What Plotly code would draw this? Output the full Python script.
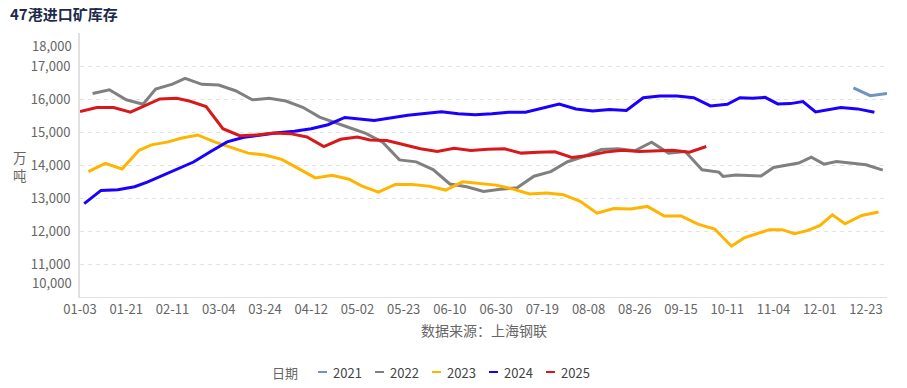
import plotly.graph_objects as go
from datetime import date, timedelta

# ---------------- data ----------------
def fridays(start, end, skip=()):
    d = date.fromisoformat(start)
    e = date.fromisoformat(end)
    out = []
    while d <= e:
        s = d.strftime("%m-%d")
        if s not in skip:
            out.append(s)
        d += timedelta(days=7)
    return out

dates_2021 = fridays("2021-12-17", "2021-12-31")
dates_2022 = fridays("2022-01-07", "2022-12-30")
dates_2023 = fridays("2023-01-06", "2023-12-29", skip=("10-06",))
dates_2024 = fridays("2024-01-05", "2024-12-27", skip=("02-16", "05-03", "10-04"))
dates_2025 = fridays("2025-01-03", "2025-09-26", skip=("01-31",))

values_2021 = [16340, 16100, 16170]
values_2022 = [16165, 16280, 15975, 15840, 16300, 16450, 16625, 16445, 16425, 16250,
               15975, 16020, 15940, 15750, 15450, 15260, 15090, 14960, 14690, 14155,
               14095, 13860, 13425, 13340, 13200, 13265, 13310, 13660, 13800, 14100,
               14265, 14470, 14490, 14430, 14690, 14360, 14410, 13855, 13785, 13655,
               13700, 13680, 13665, 13925, 13990, 14060, 14240, 14025, 14105, 14070,
               14005, 13845]
values_2023 = [13800, 14050, 13880, 14440, 14610, 14700, 14810, 14910, 14700, 14530,
               14360, 14300, 14170, 13890, 13610, 13690, 13570, 13370, 13180, 13410,
               13410, 13360, 13240, 13490, 13450, 13390, 13270, 13120, 13150, 13100,
               12900, 12540, 12680, 12670, 12745, 12455, 12455, 12210, 12060, 11540,
               11790, 11910, 12040, 12040, 11920, 12010, 12160, 12490, 12220, 12470,
               12575]
values_2024 = [12830, 13230, 13250, 13340, 13480, 13700, 14090, 14400, 14700, 14840,
               14910, 14980, 15020, 15100, 15220, 15440, 15350, 15440, 15510, 15560,
               15610, 15550, 15520, 15550, 15600, 15600, 15720, 15845, 15695, 15640,
               15680, 15655, 16040, 16090, 16090, 16040, 15790, 15840, 16040, 16020,
               16050, 15850, 15860, 15920, 15610, 15670, 15740, 15700, 15600]
values_2025 = [15620, 15740, 15740, 15600, 16000, 16020, 15940, 15770, 15100, 14890,
               14910, 14970, 14950, 14850, 14560, 14780, 14850, 14760, 14740, 14610,
               14490, 14410, 14510, 14440, 14480, 14490, 14360, 14390, 14400, 14230,
               14290, 14390, 14450, 14410, 14430, 14450, 14390, 14560]

series_names = ["2021", "2022", "2023", "2024", "2025"]
series_dates = [dates_2021, dates_2022, dates_2023, dates_2024, dates_2025]
series_values = [values_2021, values_2022, values_2023, values_2024, values_2025]
series_colors = ["#7094BE", "#808080", "#FFB400", "#1A00FF", "#D7191C"]

x_tick_labels = ["01-03", "01-21", "02-11", "03-04", "03-24", "04-12", "05-02", "05-23",
                 "06-10", "06-30", "07-19", "08-08", "08-26", "09-15", "10-11", "11-04",
                 "12-01", "12-23"]
y_tick_vals = [11000, 12000, 13000, 14000, 15000, 16000, 17000]
y_tick_text = ["11,000", "12,000", "13,000", "14,000", "15,000", "16,000", "17,000"]
y_min, y_max = 10000, 18000
y_min_label, y_max_label = "10,000", "18,000"

categories = sorted(set(d for ds in series_dates for d in ds))

# ---------------- layout geometry ----------------
OFF = 8                      # default page body margin
W, H = 907 - OFF, 388 - OFF
ML, MR, MT, MB = 72, 20, 25, 91
PW, PH = W - ML - MR, H - MT - MB
FONT = "Noto Sans CJK SC, Noto Sans, sans-serif"


def px_x(px):
    return (px - OFF - ML) / PW


def px_y(py):
    return (H - MB - (py - OFF)) / PH


fig = go.Figure()
for name, ds, vs, c in zip(series_names, series_dates, series_values, series_colors):
    assert len(ds) == len(vs), name
    fig.add_trace(go.Scatter(x=ds, y=vs, name=name, mode="lines",
                             line=dict(color=c, width=3), showlegend=False,
                             hoverinfo="x+y+name"))

annotations = []
# y title (stacked characters)
annotations.append(dict(text="万<br>吨", xref="paper", yref="paper", x=px_x(20), y=px_y(165.5),
                        xanchor="center", yanchor="middle", showarrow=False,
                        font=dict(size=13.5, color="#666666", family=FONT)))
# min / max labels
annotations.append(dict(text=y_max_label, xref="paper", yref="y", x=0, y=y_max, xanchor="right",
                        yanchor="middle", yshift=-12, xshift=-6, showarrow=False,
                        font=dict(size=13, color="#666666", family=FONT)))
annotations.append(dict(text=y_min_label, xref="paper", yref="y", x=0, y=y_min, xanchor="right",
                        yanchor="middle", yshift=15, xshift=-6, showarrow=False,
                        font=dict(size=13, color="#666666", family=FONT)))
# x title
annotations.append(dict(text="数据来源：上海钢联", xref="paper", yref="paper", x=0.5, y=px_y(330),
                        xanchor="center", yanchor="middle", showarrow=False,
                        font=dict(size=14, color="#666666", family=FONT)))
# legend
annotations.append(dict(text="日期", xref="paper", yref="paper", x=px_x(270), y=px_y(372),
                        xanchor="left", yanchor="middle", showarrow=False,
                        font=dict(size=13, color="#666666", family=FONT)))
shapes = []
for k, (name, c) in enumerate(zip(series_names, series_colors)):
    x0 = 318 + 57 * k
    shapes.append(dict(type="line", xref="paper", yref="paper", x0=px_x(x0), x1=px_x(x0 + 9),
                       y0=px_y(372), y1=px_y(372), line=dict(color=c, width=2)))
    annotations.append(dict(text=name, xref="paper", yref="paper", x=px_x(x0 + 13), y=px_y(372),
                            xanchor="left", yanchor="middle", showarrow=False,
                            font=dict(size=13, color="#444444", family=FONT)))

fig.update_layout(
    width=W, height=H,
    margin=dict(l=ML, r=MR, t=MT, b=MB, pad=0),
    paper_bgcolor="white", plot_bgcolor="white",
    title=dict(text="47港进口矿库存", x=(10 - OFF) / W, xanchor="left",
               y=1 - (15 - OFF) / H, yanchor="middle",
               font=dict(size=15, color="#1d2a49", family=FONT, weight="bold")),
    xaxis=dict(type="category", categoryorder="array", categoryarray=categories,
               range=[0, len(categories) - 1], tickmode="array", tickvals=x_tick_labels,
               ticktext=x_tick_labels, showgrid=False, showline=True, linecolor="#e0e0e0",
               linewidth=1, ticks="", tickfont=dict(size=13, color="#666666", family=FONT),
               zeroline=False),
    yaxis=dict(range=[y_min, y_max], tickmode="array", tickvals=y_tick_vals, ticktext=y_tick_text,
               showgrid=True, gridcolor="#e3e3e3", griddash="4px,4px", gridwidth=1,
               showline=True, linecolor="#e0e0e0", linewidth=2, ticks="outside", ticklen=5,
               tickcolor="rgba(0,0,0,0)", tickfont=dict(size=13, color="#666666", family=FONT),
               zeroline=False),
    annotations=annotations, shapes=shapes, showlegend=False,
)

fig.write_html("out.html")
